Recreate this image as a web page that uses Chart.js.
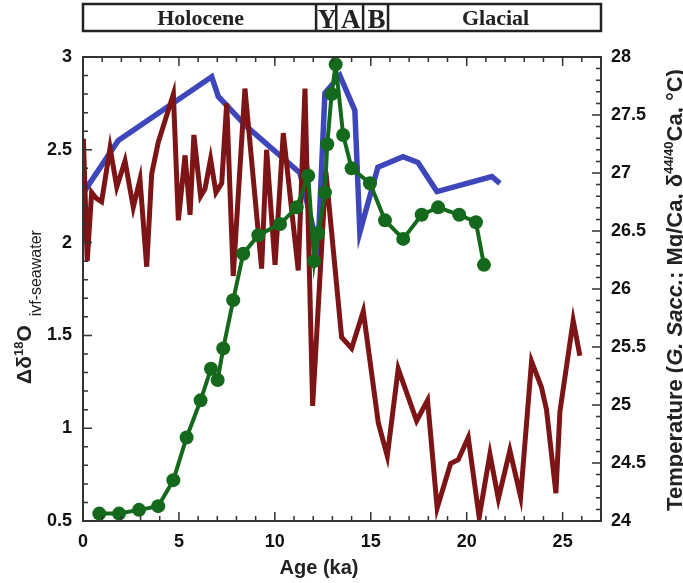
<!DOCTYPE html>
<html>
<head>
<meta charset="utf-8">
<script src="https://cdn.jsdelivr.net/npm/chart.js@4.4.0/dist/chart.umd.min.js"></script>
<style>
  html, body { margin: 0; padding: 0; background: #fff; }
</style>
</head>
<body>
<canvas id="chart" width="683" height="583"></canvas>
<script>
// red curve (left axis)
const redAge = [0.02, 0.22, 0.45, 0.68, 0.97, 1.41, 1.76, 2.19, 2.62, 2.97, 3.32, 3.58, 3.92, 4.71, 4.97,
  5.32, 5.58, 5.78, 6.13, 6.36, 6.65, 6.93, 7.23, 7.49, 7.83, 8.44, 9.31, 9.57, 10.01, 10.44,
  11.22, 11.57, 11.97, 12.66, 13.48, 14.0, 14.61, 15.39, 15.86, 16.43, 17.39, 17.96, 18.46, 19.16,
  19.56, 20.08, 20.65, 21.21, 21.65, 22.25, 22.81, 23.38, 23.9, 24.16, 24.65, 24.86, 25.55, 25.9];
const redVal = [2.56, 1.90, 2.27, 2.24, 2.22, 2.51, 2.30, 2.44, 2.19, 2.34, 1.87, 2.37, 2.54, 2.80, 2.12,
  2.47, 2.15, 2.58, 2.25, 2.29, 2.45, 2.27, 2.32, 2.75, 1.82, 2.83, 1.86, 2.50, 1.88, 2.59,
  1.85, 2.83, 1.12, 2.38, 1.49, 1.43, 1.63, 1.03, 0.85, 1.32, 1.04, 1.15, 0.57, 0.81,
  0.83, 0.95, 0.52, 0.86, 0.62, 0.88, 0.63, 1.36, 1.22, 1.10, 0.65, 1.09, 1.58, 1.39];

// blue curve (right axis, degC)
const blueAge = [0.10, 1.84, 6.71, 7.05, 8.53, 11.31, 12.25, 12.61, 13.39, 14.17, 14.43, 15.37, 16.68, 17.46, 18.45, 21.31, 21.73];
const blueVal = [26.85, 27.28, 27.83, 27.66, 27.40, 27.00, 26.35, 27.69, 27.84, 27.54, 26.49, 27.05, 27.14, 27.09, 26.84, 26.97, 26.91];

// green curve with markers (left axis)
const greenAge = [0.85, 1.88, 2.92, 3.92, 4.71, 5.40, 6.13, 6.67, 7.02, 7.31, 7.83, 8.35, 9.14, 10.27, 11.14,
  11.74, 12.05, 12.26, 12.61, 12.73, 12.96, 13.17, 13.56, 14.0, 14.96, 15.74, 16.69, 17.65, 18.51, 19.61, 20.48, 20.90];
const greenVal = [0.54, 0.54, 0.56, 0.58, 0.72, 0.95, 1.15, 1.32, 1.26, 1.43, 1.69, 1.94, 2.04, 2.10, 2.19,
  2.36, 1.90, 2.05, 2.27, 2.53, 2.80, 2.96, 2.58, 2.40, 2.32, 2.12, 2.02, 2.15, 2.19, 2.15, 2.11, 1.88];

// period band along the top
const periodNames = ["Holocene", "Y", "A", "B", "Glacial"];
const periodEdges = [0, 12.15, 13.2, 14.6, 15.9, 27];

const toXY = (xs, ys) => xs.map((x, i) => ({ x: x, y: ys[i] }));
const fmt = v => (Number.isInteger(v) ? String(v) : v.toFixed(1));

const INK = "#222";
const SANS = "'Liberation Sans', Arial, sans-serif";
const SERIF = "'Liberation Serif', 'Times New Roman', serif";

const framePlugin = {
  id: "frame",
  afterDatasetsDraw(chart) {
    const { ctx, chartArea: a, scales } = chart;
    ctx.save();
    ctx.strokeStyle = "#333";
    ctx.lineWidth = 2;
    ctx.strokeRect(a.left, a.top, a.right - a.left, a.bottom - a.top);
    ctx.lineWidth = 1.5;
    ctx.beginPath();
    // x ticks, bottom and top, pointing in
    for (let v = 0; v <= 27; v++) {
      const px = scales.x.getPixelForValue(v);
      const len = v % 5 === 0 ? 9 : 5;
      ctx.moveTo(px, a.bottom); ctx.lineTo(px, a.bottom - len);
      ctx.moveTo(px, a.top); ctx.lineTo(px, a.top + len);
    }
    // left ticks
    for (let i = 5; i <= 30; i++) {
      const py = scales.y.getPixelForValue(i / 10);
      const len = i % 5 === 0 ? 9 : 5;
      ctx.moveTo(a.left, py); ctx.lineTo(a.left + len, py);
    }
    // right ticks
    for (let i = 240; i <= 280; i++) {
      const py = scales.y2.getPixelForValue(i / 10);
      const len = i % 5 === 0 ? 9 : 5;
      ctx.moveTo(a.right, py); ctx.lineTo(a.right - len, py);
    }
    ctx.stroke();
    ctx.restore();
  }
};

const labelsPlugin = {
  id: "labels",
  afterDraw(chart) {
    const { ctx, scales } = chart;
    ctx.save();

    // top band
    const top = 4, bot = 31;
    const x0 = scales.x.getPixelForValue(periodEdges[0]);
    const x1 = scales.x.getPixelForValue(periodEdges[periodEdges.length - 1]);
    ctx.strokeStyle = INK;
    ctx.lineWidth = 2.5;
    ctx.strokeRect(x0, top, x1 - x0, bot - top);
    ctx.beginPath();
    for (let i = 1; i < periodEdges.length - 1; i++) {
      const px = scales.x.getPixelForValue(periodEdges[i]);
      ctx.moveTo(px, top); ctx.lineTo(px, bot);
    }
    ctx.stroke();
    ctx.fillStyle = INK;
    ctx.textAlign = "center";
    ctx.textBaseline = "alphabetic";
    periodNames.forEach((name, i) => {
      const l = scales.x.getPixelForValue(periodEdges[i]);
      const r = scales.x.getPixelForValue(periodEdges[i + 1]);
      const big = name.length === 1;
      ctx.font = "bold " + (big ? 27 : 22) + "px " + SERIF;
      ctx.fillText(name, (l + r) / 2 + 1, big ? 28 : 25);
    });

    // x title
    ctx.font = "bold 20px " + SANS;
    ctx.textBaseline = "middle";
    ctx.fillText("Age (ka)", 319, 568);

    // rotated rich text, reading bottom to top
    const drawRun = (parts, cx, cy) => {
      ctx.save();
      ctx.translate(cx, cy);
      ctx.rotate(-Math.PI / 2);
      ctx.textAlign = "left";
      ctx.textBaseline = "alphabetic";
      let total = 0;
      parts.forEach(p => { ctx.font = p.font; total += ctx.measureText(p.t).width; });
      let x = -total / 2;
      parts.forEach(p => {
        ctx.font = p.font;
        ctx.fillText(p.t, x, p.dy);
        x += ctx.measureText(p.t).width;
      });
      ctx.restore();
    };

    drawRun([
      { t: "Δδ", font: "bold 21px " + SANS, dy: 0 },
      { t: "18", font: "bold 13px " + SANS, dy: -8 },
      { t: "O", font: "bold 21px " + SANS, dy: 0 },
      { t: "  ivf-seawater", font: "16px " + SANS, dy: 10 }
    ], 31, 307);

    drawRun([
      { t: "Temperature (", font: "bold 22px " + SANS, dy: 0 },
      { t: "G. Sacc.", font: "italic bold 22px " + SANS, dy: 0 },
      { t: "; Mg/Ca, δ", font: "bold 22px " + SANS, dy: 0 },
      { t: "44/40", font: "bold 13px " + SANS, dy: -9 },
      { t: "Ca, °C)", font: "bold 22px " + SANS, dy: 0 }
    ], 682, 290);

    ctx.restore();
  }
};

const tickFont = { family: SANS, size: 18, weight: "bold" };

new Chart(document.getElementById("chart"), {
  type: "line",
  data: {
    datasets: [
      {
        label: "green",
        data: toXY(greenAge, greenVal),
        yAxisID: "y",
        borderColor: "#15691d",
        backgroundColor: "#15691d",
        borderWidth: 4,
        pointRadius: 7,
        pointBorderWidth: 0,
        pointBackgroundColor: "#15691d",
        tension: 0
      },
      {
        label: "red",
        data: toXY(redAge, redVal),
        yAxisID: "y",
        borderColor: "#7d1416",
        borderWidth: 5,
        pointRadius: 0,
        tension: 0
      },
      {
        label: "blue",
        data: toXY(blueAge, blueVal),
        yAxisID: "y2",
        borderColor: "#3d46bb",
        borderWidth: 5.5,
        pointRadius: 0,
        tension: 0
      }
    ]
  },
  options: {
    responsive: false,
    devicePixelRatio: 1,
    animation: false,
    layout: { padding: { top: 57, left: 0, right: 0, bottom: 0 } },
    plugins: { legend: { display: false }, tooltip: { enabled: false } },
    scales: {
      x: {
        type: "linear",
        min: 0,
        max: 27,
        grid: { display: false, drawTicks: false },
        border: { display: false },
        ticks: {
          stepSize: 5,
          includeBounds: false,
          maxRotation: 0,
          autoSkip: false,
          padding: 10,
          color: "#111",
          font: tickFont,
          callback: v => (v % 5 === 0 ? String(v) : "")
        },
        afterFit: s => { s.height = 62; }
      },
      y: {
        position: "left",
        min: 0.5,
        max: 3,
        grid: { display: false, drawTicks: false },
        border: { display: false },
        ticks: { stepSize: 0.5, padding: 11, color: "#111", font: tickFont, callback: fmt },
        afterFit: s => { s.width = 83; }
      },
      y2: {
        position: "right",
        min: 24,
        max: 28,
        grid: { display: false, drawTicks: false },
        border: { display: false },
        ticks: { stepSize: 0.5, padding: 10, color: "#111", font: tickFont, callback: fmt },
        afterFit: s => { s.width = 82; }
      }
    }
  },
  plugins: [framePlugin, labelsPlugin]
});
</script>
</body>
</html>
